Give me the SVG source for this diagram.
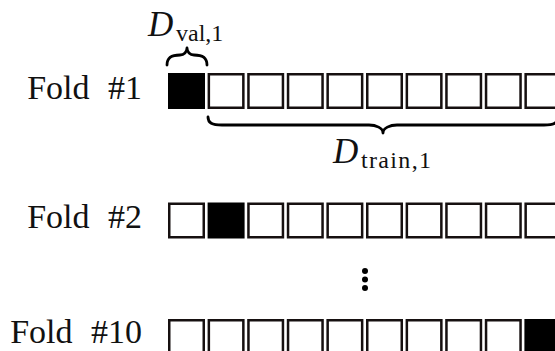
<svg xmlns="http://www.w3.org/2000/svg" width="555" height="351" viewBox="0 0 555 351">
<style>
.lbl{font-family:"Liberation Serif","Times New Roman",serif;font-size:34px;fill:#111;word-spacing:10px}
.mi{font-family:"Liberation Serif","Times New Roman",serif;font-style:italic;font-size:35px;fill:#111}
.sub{font-family:"Liberation Serif","Times New Roman",serif;font-size:24px;fill:#111}
.b{fill:#fff;stroke:#161010;stroke-width:2.5}
.k{fill:#000;stroke:#000;stroke-width:2.5}
.br{fill:none;stroke:#000;stroke-width:2.8;stroke-linecap:round;stroke-linejoin:round}
</style>
<rect width="555" height="351" fill="#fff"/>
<g id="fold1">
<text class="lbl" x="142" y="99" text-anchor="end">Fold #1</text>
<rect class="k" x="169.25" y="74.25" width="34.5" height="33.5"/>
<rect class="b" x="208.85" y="74.25" width="34.5" height="33.5"/>
<rect class="b" x="248.45" y="74.25" width="34.5" height="33.5"/>
<rect class="b" x="288.05" y="74.25" width="34.5" height="33.5"/>
<rect class="b" x="327.65" y="74.25" width="34.5" height="33.5"/>
<rect class="b" x="367.25" y="74.25" width="34.5" height="33.5"/>
<rect class="b" x="406.85" y="74.25" width="34.5" height="33.5"/>
<rect class="b" x="446.45" y="74.25" width="34.5" height="33.5"/>
<rect class="b" x="486.05" y="74.25" width="34.5" height="33.5"/>
<rect class="b" x="525.65" y="74.25" width="34.5" height="33.5"/>
</g>
<g id="fold2">
<text class="lbl" x="142" y="228" text-anchor="end">Fold #2</text>
<rect class="b" x="169.25" y="203.75" width="34.5" height="33.5"/>
<rect class="k" x="208.85" y="203.75" width="34.5" height="33.5"/>
<rect class="b" x="248.45" y="203.75" width="34.5" height="33.5"/>
<rect class="b" x="288.05" y="203.75" width="34.5" height="33.5"/>
<rect class="b" x="327.65" y="203.75" width="34.5" height="33.5"/>
<rect class="b" x="367.25" y="203.75" width="34.5" height="33.5"/>
<rect class="b" x="406.85" y="203.75" width="34.5" height="33.5"/>
<rect class="b" x="446.45" y="203.75" width="34.5" height="33.5"/>
<rect class="b" x="486.05" y="203.75" width="34.5" height="33.5"/>
<rect class="b" x="525.65" y="203.75" width="34.5" height="33.5"/>
</g>
<g id="ellipsis">
<circle cx="365" cy="271" r="3"/>
<circle cx="365" cy="279.5" r="3"/>
<circle cx="365" cy="288" r="3"/>
</g>
<g id="fold10">
<text class="lbl" x="142" y="343" text-anchor="end">Fold #10</text>
<rect class="b" x="169.25" y="320.25" width="34.5" height="33.5"/>
<rect class="b" x="208.85" y="320.25" width="34.5" height="33.5"/>
<rect class="b" x="248.45" y="320.25" width="34.5" height="33.5"/>
<rect class="b" x="288.05" y="320.25" width="34.5" height="33.5"/>
<rect class="b" x="327.65" y="320.25" width="34.5" height="33.5"/>
<rect class="b" x="367.25" y="320.25" width="34.5" height="33.5"/>
<rect class="b" x="406.85" y="320.25" width="34.5" height="33.5"/>
<rect class="b" x="446.45" y="320.25" width="34.5" height="33.5"/>
<rect class="b" x="486.05" y="320.25" width="34.5" height="33.5"/>
<rect class="k" x="525.65" y="320.25" width="34.5" height="33.5"/>
</g>
<g id="connectors">
<path class="br" d="M167,65 C167,57 172,55 180,55 C184,55 187,52 187,48 C187,52 190,55 194,55 C202,55 207,57 207,65"/>
<path class="br" d="M208,117 C208,123 212,125 222,125 L369,125 C376,125 383,128 383,133 C383,128 390,125 397,125 L544,125 C554,125 558,123 558,117"/>
</g>
<g id="label-val">
<text class="mi" x="148" y="36">D</text>
<text class="sub" x="176" y="41">val,1</text>
</g>
<g id="label-train">
<text class="mi" x="333" y="163">D</text>
<text class="sub" x="361" y="168" textLength="70" lengthAdjust="spacing">train,1</text>
</g>
</svg>
